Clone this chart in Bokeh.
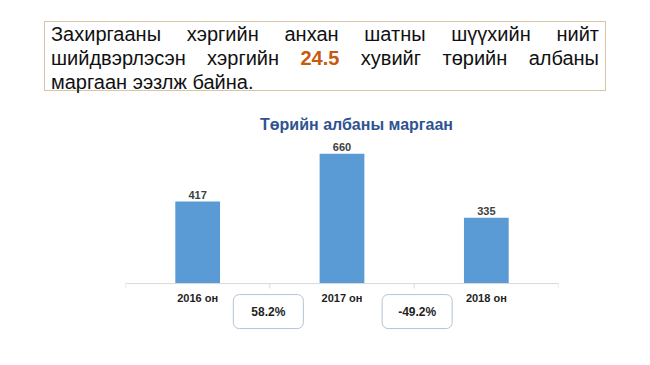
import math
from bokeh.plotting import figure
from bokeh.models import Div, Label, Span, Range1d
from bokeh.layouts import column
from bokeh.core.properties import value
from bokeh.embed import file_html
from bokeh.resources import INLINE

# ---- data ----
categories = ["2016 он", "2017 он", "2018 он"]
values = [417, 660, 335]
changes = ["58.2%", "-49.2%"]
chart_title = "Төрийн албаны маргаан"
headline_lines = [
    "Захиргааны хэргийн анхан шатны шүүхийн нийт",
    "шийдвэрлэсэн хэргийн <b style=\"color:#C55A11\">24.5</b> хувийг төрийн албаны",
    "маргаан ээзлж байна.",
]

FONT = "Liberation Sans"

# ---- headline box (HTML) ----
line_html = ""
for i, ln in enumerate(headline_lines):
    last = i == len(headline_lines) - 1
    align = "left" if last else "justify"
    line_html += f'<div style="text-align:{align};text-align-last:{align};">{ln}</div>'
box_html = (
    '<div style="padding:16px 0 0 39px;">'
    '<div style="box-sizing:border-box;width:562px;height:70px;border:1px solid #D8C4A6;'
    f'padding:0 6px 0 6px;font-family:\'{FONT}\', Arial, sans-serif;font-size:20px;'
    'line-height:24px;color:#111;">'
    + line_html +
    '</div></div>'
)
head = Div(text=box_html, width=634, height=90)

# ---- chart ----
p = figure(
    x_range=categories,
    y_range=Range1d(-376, 931),
    width=634, height=257,
    output_backend="svg", toolbar_location=None,
    x_axis_location=None, y_axis_location=None,
    min_border_left=125, min_border_right=76,
    min_border_top=0, min_border_bottom=0,
)
p.outline_line_color = None
p.grid.visible = False
p.background_fill_color = "white"

p.vbar(x=categories, top=values, width=0.31, color="#5B9BD5", line_color=None)

# baseline & small ticks between categories
p.add_layout(Span(location=0, dimension="width", line_color="#D9D9D9", line_width=1))
p.ray(x=[0, 1, 2, 3], y=[0, 0, 0, 0], length=5, length_units="screen",
      angle=-math.pi / 2, line_color="#D9D9D9", line_width=1)

# value labels
p.text(x=categories, y=values, text=[str(v) for v in values],
       text_align="center", text_baseline="alphabetic", y_offset=-7,
       text_font=value(FONT), text_font_size="11px", text_font_style="bold",
       text_color="#404040")

# category labels
p.text(x=categories, y=[0] * len(categories), text=categories,
       text_align="center", text_baseline="alphabetic", y_offset=14,
       text_font=value(FONT), text_font_size="11px", text_font_style="bold",
       text_color="#1F1F1F")

# title
p.add_layout(Label(x=231, y=233, x_units="screen", y_units="screen",
                   text=chart_title, text_align="center", text_baseline="alphabetic",
                   text_font=FONT, text_font_size="16px", text_font_style="bold",
                   text_color="#2F5392"))

# change boxes between categories
box_shift = [-1.5, 3]
box_pad = [(18, 10), (16, 10)]
for i, ch in enumerate(changes):
    p.add_layout(Label(x=i + 1, y=0, x_offset=box_shift[i], y_offset=-28, text=ch,
                       text_align="center", text_baseline="middle",
                       text_font=FONT, text_font_size="12px", text_font_style="bold",
                       text_color="#1F1F1F",
                       background_fill_color="white",
                       border_line_color="#B3C3D6", border_line_width=1,
                       border_radius=6, padding=box_pad[i]))

layout = column(head, p)
open("out.html", "w").write(file_html(layout, INLINE))
